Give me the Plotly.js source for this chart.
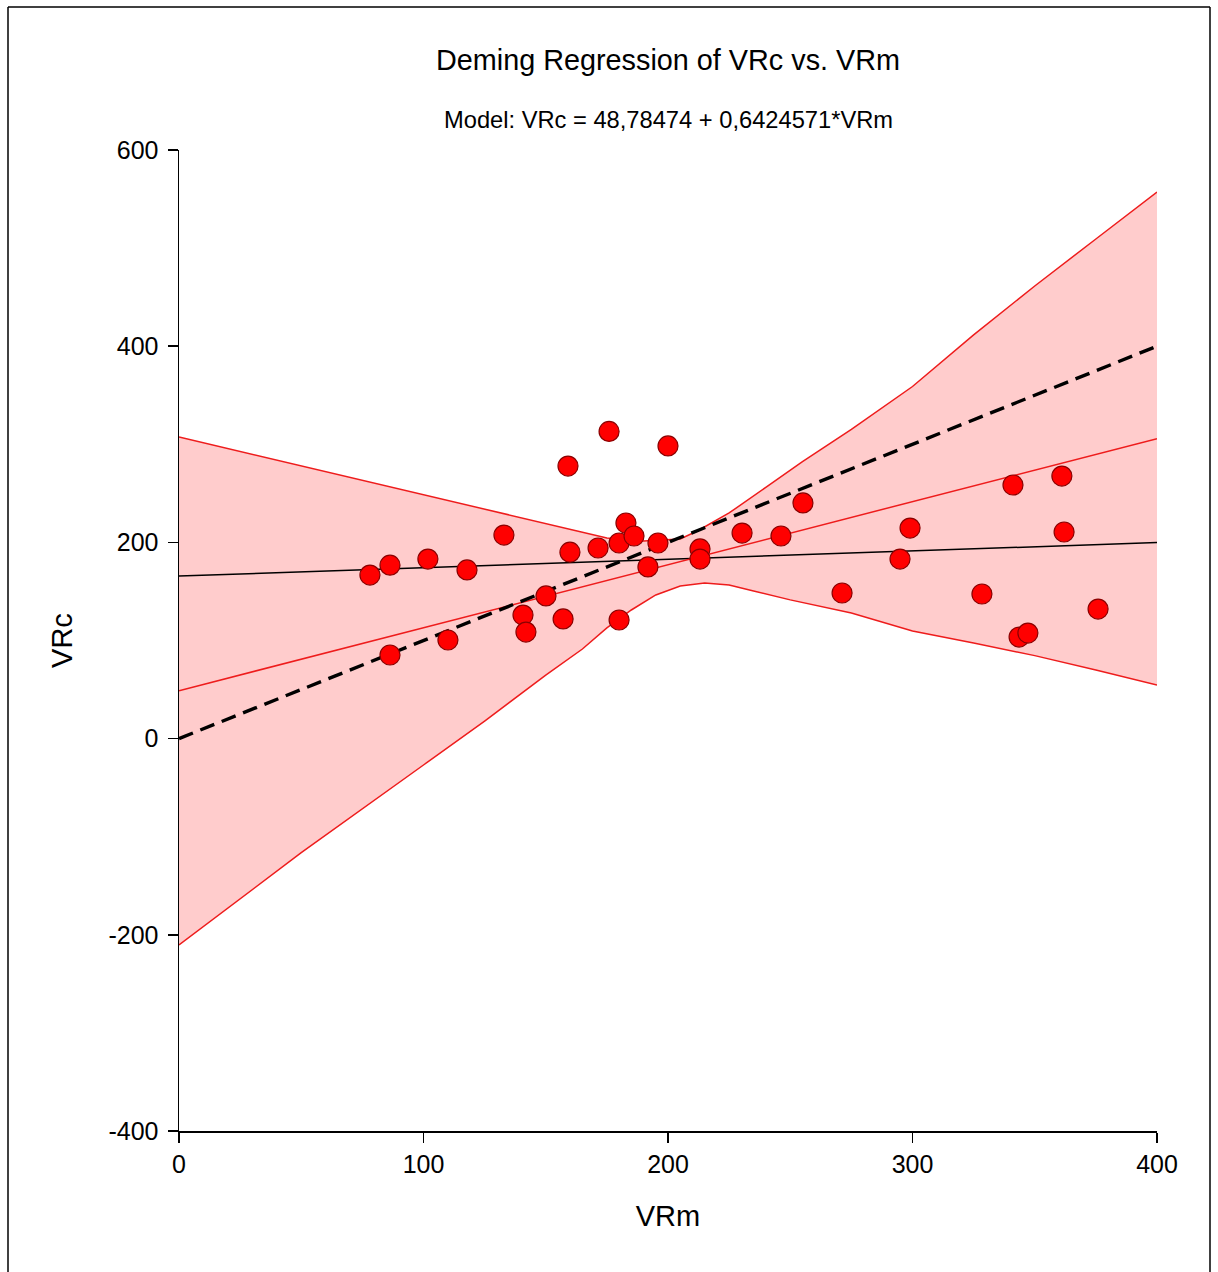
<!DOCTYPE html>
<html>
<head>
<meta charset="utf-8">
<script src="https://cdn.plot.ly/plotly-3.0.1.min.js"></script>
<style>
  html, body { margin: 0; padding: 0; background: #ffffff; }
  #chart { width: 1218px; height: 1272px; }
</style>
</head>
<body>
<div id="chart"></div>
<script>
// ---- data ----
const vrm = [78.1, 86.3, 86.3, 101.8, 110.0, 117.8, 132.9, 140.7, 141.9, 150.1, 157.1, 159.1, 159.9,
             171.4, 175.9, 180.0, 180.0, 182.8, 186.1, 191.8, 195.9, 200.0, 213.1, 213.1, 230.3,
             246.2, 255.2, 271.2, 294.9, 299.0, 328.4, 341.1, 343.6, 347.2, 361.1, 362.0, 375.9];
const vrc = [166.7, 176.8, 85.2, 183.0, 100.5, 171.9, 207.5, 125.9, 108.6, 145.4, 122.0, 277.8, 190.0,
             194.3, 313.1, 199.4, 120.9, 219.8, 206.5, 175.0, 199.4, 298.3, 193.3, 183.0, 209.5,
             206.5, 240.2, 148.4, 183.0, 214.6, 147.4, 258.5, 103.5, 107.6, 267.6, 210.6, 132.0];

const upperX = [0, 50, 100, 150, 175, 190, 200, 205, 212, 225, 240, 255, 275, 300, 325, 350, 375, 400];
const upperY = [307.4, 278.0, 248.3, 218.8, 204.5, 201.4, 202.4, 203.5, 211.6, 230.0, 256.1, 282.3,
                315.3, 358.9, 411.6, 461.4, 509.3, 557.2];

const lowerX = [0, 50, 100, 125, 150, 165, 175, 185, 195, 205, 215, 225, 235, 250, 275, 300, 325, 350, 375, 400];
const lowerY = [-210.4, -116.3, -26.9, 17.9, 64.8, 91.3, 112.8, 131.1, 146.4, 155.6, 158.6, 156.6,
                150.5, 141.4, 128.0, 109.7, 97.4, 84.6, 69.9, 54.6];

const lineX = [0, 400];
const identityY = [0, 400];
const demingY = [48.8, 305.8];
const olsY = [165.7, 199.8];

const xTickVals = [0, 100, 200, 300, 400];
const xTickText = ['0', '100', '200', '300', '400'];
const yTickVals = [-400, -200, 0, 200, 400, 600];
const yTickText = ['-400', '-200', '0', '200', '400', '600'];

const titleText = 'Deming Regression of VRc vs. VRm';
const subtitleText = 'Model: VRc = 48,78474 + 0,6424571*VRm';
const xTitle = 'VRm';
const yTitle = 'VRc';

// ---- traces ----
const FONT = 'Liberation Sans, Arial, sans-serif';

// band polygon built from upper and reversed lower boundaries
const bandX = upperX.concat(lowerX.slice().reverse());
const bandY = upperY.concat(lowerY.slice().reverse());

const traces = [
  { x: bandX, y: bandY, type: 'scatter', mode: 'none', fill: 'toself',
    fillcolor: 'rgba(255,0,0,0.2)', hoverinfo: 'skip', showlegend: false },
  { x: upperX, y: upperY, type: 'scatter', mode: 'lines',
    line: { color: '#ee1c1c', width: 1.5 }, showlegend: false },
  { x: lowerX, y: lowerY, type: 'scatter', mode: 'lines',
    line: { color: '#ee1c1c', width: 1.5 }, showlegend: false },
  { x: lineX, y: olsY, type: 'scatter', mode: 'lines',
    line: { color: '#000000', width: 1.5 }, showlegend: false },
  { x: lineX, y: demingY, type: 'scatter', mode: 'lines',
    line: { color: '#ee1c1c', width: 1.5 }, showlegend: false },
  { x: lineX, y: identityY, type: 'scatter', mode: 'lines',
    line: { color: '#000000', width: 3.4, dash: '15px,8px' }, showlegend: false },
  { x: vrm, y: vrc, type: 'scatter', mode: 'markers',
    marker: { color: '#ff0000', size: 20, line: { color: '#8b0000', width: 1.2 } },
    showlegend: false }
];

// frame around the whole figure, in paper coordinates derived from the margins
const L = 179, R = 61, T = 150, B = 141, W = 1218, H = 1272;
const pw = W - L - R, ph = H - T - B;
const px2x = p => (p - L) / pw;
const py2y = p => (H - B - p) / ph;

const layout = {
  width: W, height: H,
  margin: { l: L, r: R, t: T, b: B, pad: 0 },
  paper_bgcolor: '#ffffff', plot_bgcolor: '#ffffff',
  font: { family: FONT, color: '#000000' },
  title: { text: titleText, font: { family: FONT, size: 28.8, color: '#000' },
           x: 0.5, xref: 'paper', y: 1 - 60 / H, yref: 'container', yanchor: 'middle' },
  xaxis: {
    range: [0, 400], tickvals: xTickVals, ticktext: xTickText,
    showline: true, linecolor: '#000', linewidth: 1.5, mirror: false,
    ticks: 'outside', ticklen: 10, tickwidth: 1.5, tickcolor: '#000',
    showgrid: false, zeroline: false,
    tickfont: { family: FONT, size: 25, color: '#000' },
    title: { text: xTitle, font: { family: FONT, size: 29, color: '#000' }, standoff: 29 }
  },
  yaxis: {
    range: [-400, 600], tickvals: yTickVals, ticktext: yTickText,
    showline: true, linecolor: '#000', linewidth: 1.5, mirror: false,
    ticks: 'outside', ticklen: 10, tickwidth: 1.5, tickcolor: '#000',
    ticklabelstandoff: 4,
    showgrid: false, zeroline: false,
    tickfont: { family: FONT, size: 25, color: '#000' },
    title: { text: yTitle, font: { family: FONT, size: 29, color: '#000' }, standoff: 27 }
  },
  annotations: [
    { text: subtitleText, xref: 'paper', yref: 'paper', x: 0.5, y: py2y(120),
      xanchor: 'center', yanchor: 'middle', showarrow: false,
      font: { family: FONT, size: 23.7, color: '#000' } }
  ],
  shapes: [
    { type: 'line', xref: 'paper', yref: 'paper', x0: px2x(8), x1: px2x(8), y0: py2y(7), y1: py2y(1280),
      line: { color: '#000', width: 1.5 } },
    { type: 'line', xref: 'paper', yref: 'paper', x0: px2x(8), x1: px2x(1210), y0: py2y(7), y1: py2y(7),
      line: { color: '#000', width: 1.5 } },
    { type: 'line', xref: 'paper', yref: 'paper', x0: px2x(1210), x1: px2x(1210), y0: py2y(7), y1: py2y(1280),
      line: { color: '#000', width: 1.5 } }
  ],
  showlegend: false
};

Plotly.newPlot('chart', traces, layout, { displayModeBar: false, staticPlot: true });
</script>
</body>
</html>
